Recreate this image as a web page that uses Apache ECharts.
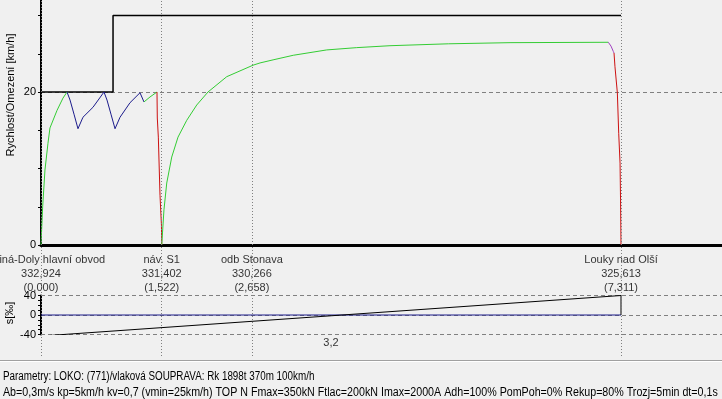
<!DOCTYPE html>
<html><head><meta charset="utf-8">
<script src="https://cdn.jsdelivr.net/npm/echarts@6/dist/echarts.min.js"></script>
<style>html,body{margin:0;padding:0;background:#f0f0f0;}#c{width:722px;height:399px;}</style>
</head><body><div id="c"></div>
<script>
const FONT = '"Liberation Sans", Arial, sans-serif';

// ---- data ----
const stationNames = ['Karviná-Doly hlavní obvod', 'náv. S1', 'odb Stonava', 'Louky nad Olší'];
const stationChainage = ['332,924', '331,402', '330,266', '325,613'];
const stationKm = [0, 1.522, 2.658, 7.311];

const speedLimit = [[0, 20], [0.908, 20], [0.908, 30], [7.311, 30]];

const accelStart = [[0, 0], [0.009, 2.2], [0.021, 5.0], [0.050, 9.8], [0.088, 13.3], [0.113, 15.3], [0.202, 17.6], [0.277, 19.2], [0.328, 20.0]];
const regulation = [[0.328, 20.0], [0.366, 18.95], [0.416, 17.1], [0.466, 15.2], [0.529, 16.7], [0.655, 18.0], [0.794, 20.0], [0.832, 18.95], [0.882, 17.1], [0.933, 15.2], [0.996, 16.7], [1.122, 18.6], [1.248, 19.9], [1.298, 18.7]];
const accelMid = [[1.298, 18.7], [1.374, 19.35], [1.462, 20.0]];
const brakeS1 = [[1.462, 20.0], [1.466, 16.6], [1.479, 14.1], [1.500, 6.5], [1.518, 2.6], [1.522, 0]];
const accelMain = [[1.522, 0], [1.550, 4.6], [1.585, 8.1], [1.648, 11.5], [1.727, 14.1], [1.837, 16.3], [1.963, 18.3], [2.105, 20.0], [2.341, 22.0], [2.672, 23.5], [2.761, 23.8], [2.925, 24.2], [3.180, 24.8], [3.601, 25.5], [3.980, 25.8], [4.399, 26.05], [5.134, 26.3], [5.912, 26.45], [7.151, 26.5]];
const coastEnd = [[7.151, 26.5], [7.185, 26.0], [7.214, 25.3], [7.223, 25.1]];
const brakeEnd = [[7.223, 25.1], [7.235, 23.3], [7.265, 19.9], [7.282, 14.6], [7.299, 10.7], [7.305, 5.9], [7.311, 0]];

const gradientLine = [[0, 0], [7.311, 0]];
const profileLine = [[0, -43.2], [7.311, 40], [7.311, 0]];
const gradientLabels = [[3.6555, '3,2']];

const speedTicks = [0, 20, 40];
const gradTicks = [-40, 0, 40];

const speedAxisName = 'Rychlost/Omezení [km/h]';
const gradAxisName = 's[‰]';
const paramLine1 = 'Parametry: LOKO: (771)/vlaková SOUPRAVA: Rk 1898t 370m 100km/h';
const paramLine2 = 'Ab=0,3m/s kp=5km/h kv=0,7 (vmin=25km/h) TOP N Fmax=350kN Ftlac=200kN Imax=2000A Adh=100% PomPoh=0% Rekup=80% Trozj=5min dt=0,1s';

// ---- layout constants ----
const XMAX = 8.584;
const BG_H = 356;
const LABEL_Y = 1 - 274 / BG_H;

const chart = echarts.init(document.getElementById('c'), null, { renderer: 'canvas' });

function ln(data, color, width, z) {
  return { type: 'line', data: data, xAxisIndex: 0, yAxisIndex: 0, symbol: 'none', showSymbol: false,
    lineStyle: { color: color, width: width || 1 }, z: z || 3, animation: false, clip: true };
}

const option = {
  backgroundColor: '#f0f0f0',
  animation: false,
  textStyle: { fontFamily: FONT },
  graphic: [
    { type: 'line', shape: { x1: 0, y1: 360.5, x2: 722, y2: 360.5 }, style: { stroke: '#a0a0a0', lineWidth: 1 } },
    { type: 'line', shape: { x1: 0, y1: 361.5, x2: 722, y2: 361.5 }, style: { stroke: '#ffffff', lineWidth: 1 } },
    { type: 'text', x: 11, y: 95, rotation: Math.PI / 2, style: { text: speedAxisName, font: '11px "Liberation Sans", Arial, sans-serif', fill: '#000', verticalAlign: 'middle', align: 'center' } },
    { type: 'text', x: 10, y: 313, rotation: Math.PI / 2, style: { text: gradAxisName, font: '11px "Liberation Sans", Arial, sans-serif', fill: '#000', verticalAlign: 'middle', align: 'center' } },
    { type: 'text', x: 3, y: 377, scaleX: 0.82, style: { text: paramLine1, font: '12px "Liberation Sans", Arial, sans-serif', fill: '#000', verticalAlign: 'middle', align: 'left' } },
    { type: 'text', x: 3, y: 393, scaleX: 0.89, style: { text: paramLine2, font: '12px "Liberation Sans", Arial, sans-serif', fill: '#000', verticalAlign: 'middle', align: 'left' } }
  ],
  grid: [
    { left: 41, right: 0, top: -61, height: 306, outerBoundsMode: 'none', containLabel: false },
    { left: 41, right: 0, top: 295.5, height: 39, outerBoundsMode: 'none', containLabel: false },
    { left: 41, right: 0, top: 0, height: BG_H, outerBoundsMode: 'none', containLabel: false }
  ],
  xAxis: [
    { gridIndex: 0, type: 'value', min: 0, max: XMAX,
      axisLine: { show: true, onZero: false, lineStyle: { color: '#000', width: 3 } },
      axisTick: { show: false }, axisLabel: { show: false }, splitLine: { show: false } },
    { gridIndex: 1, type: 'value', min: 0, max: XMAX, show: false },
    { gridIndex: 2, type: 'value', min: 0, max: XMAX, show: false }
  ],
  yAxis: [
    { gridIndex: 0, type: 'value', min: speedTicks[0], max: speedTicks[2], interval: 20,
      axisLine: { show: true, lineStyle: { color: '#000', width: 2 } },
      axisTick: { show: true, length: 3, lineStyle: { color: '#000' } },
      minorTick: { show: true, splitNumber: 4, length: 3, lineStyle: { color: '#000' } },
      axisLabel: { fontSize: 11, color: '#000', margin: 5, fontFamily: FONT },
      splitLine: { show: true, lineStyle: { color: '#808080', type: [4, 3], width: 1 } } },
    { gridIndex: 1, type: 'value', min: gradTicks[0], max: gradTicks[2], interval: 40,
      axisLine: { show: true, onZero: false, lineStyle: { color: '#000', width: 2 } },
      axisTick: { show: true, length: 3, lineStyle: { color: '#000' } },
      minorTick: { show: true, splitNumber: 4, length: 3, lineStyle: { color: '#000' } },
      axisLabel: { fontSize: 11, color: '#000', margin: 5, fontFamily: FONT },
      splitLine: { show: true, lineStyle: { color: '#808080', type: [4, 3], width: 1 } } },
    { gridIndex: 2, type: 'value', min: 0, max: 1, show: false }
  ],
  series: [
    {
      type: 'scatter', xAxisIndex: 2, yAxisIndex: 2, symbolSize: 0, z: 1,
      data: stationKm.map((k, i) => [k, LABEL_Y, i]),
      label: {
        show: true, position: 'inside', color: '#000', fontSize: 11, lineHeight: 14, fontFamily: FONT,
        formatter: p => stationNames[p.data[2]] + '\n' + stationChainage[p.data[2]] + '\n(' + stationKm[p.data[2]].toFixed(3).replace('.', ',') + ')'
      },
      markLine: {
        silent: true, symbol: ['none', 'none'], label: { show: false }, animation: false,
        lineStyle: { color: '#808080', type: [1, 2], width: 1 },
        data: stationKm.map(k => ({ xAxis: k }))
      }
    },
    ln(speedLimit, '#000', 1.5, 2),
    ln(accelStart, '#33cc33', 1),
    ln(regulation, '#1c1c8c', 1),
    ln(accelMid, '#33cc33', 1),
    ln(brakeS1, '#cc1111', 1),
    ln(accelMain, '#33cc33', 1),
    ln(coastEnd, '#a040c0', 1),
    ln(brakeEnd, '#cc1111', 1),
    { type: 'line', xAxisIndex: 1, yAxisIndex: 1, data: gradientLine, symbol: 'none', lineStyle: { color: '#1c1c8c', width: 1 }, z: 3 },
    { type: 'line', xAxisIndex: 1, yAxisIndex: 1, data: profileLine, symbol: 'none', lineStyle: { color: '#000', width: 1 }, z: 3, clip: true },
    {
      type: 'scatter', xAxisIndex: 1, yAxisIndex: 1, symbolSize: 0,
      data: gradientLabels.map(g => [g[0], gradTicks[0], g[1]]),
      label: { show: true, position: 'bottom', distance: 3, color: '#000', fontSize: 11, fontFamily: FONT, formatter: p => p.data[2] }
    }
  ]
};
chart.setOption(option);
</script>
</body></html>
